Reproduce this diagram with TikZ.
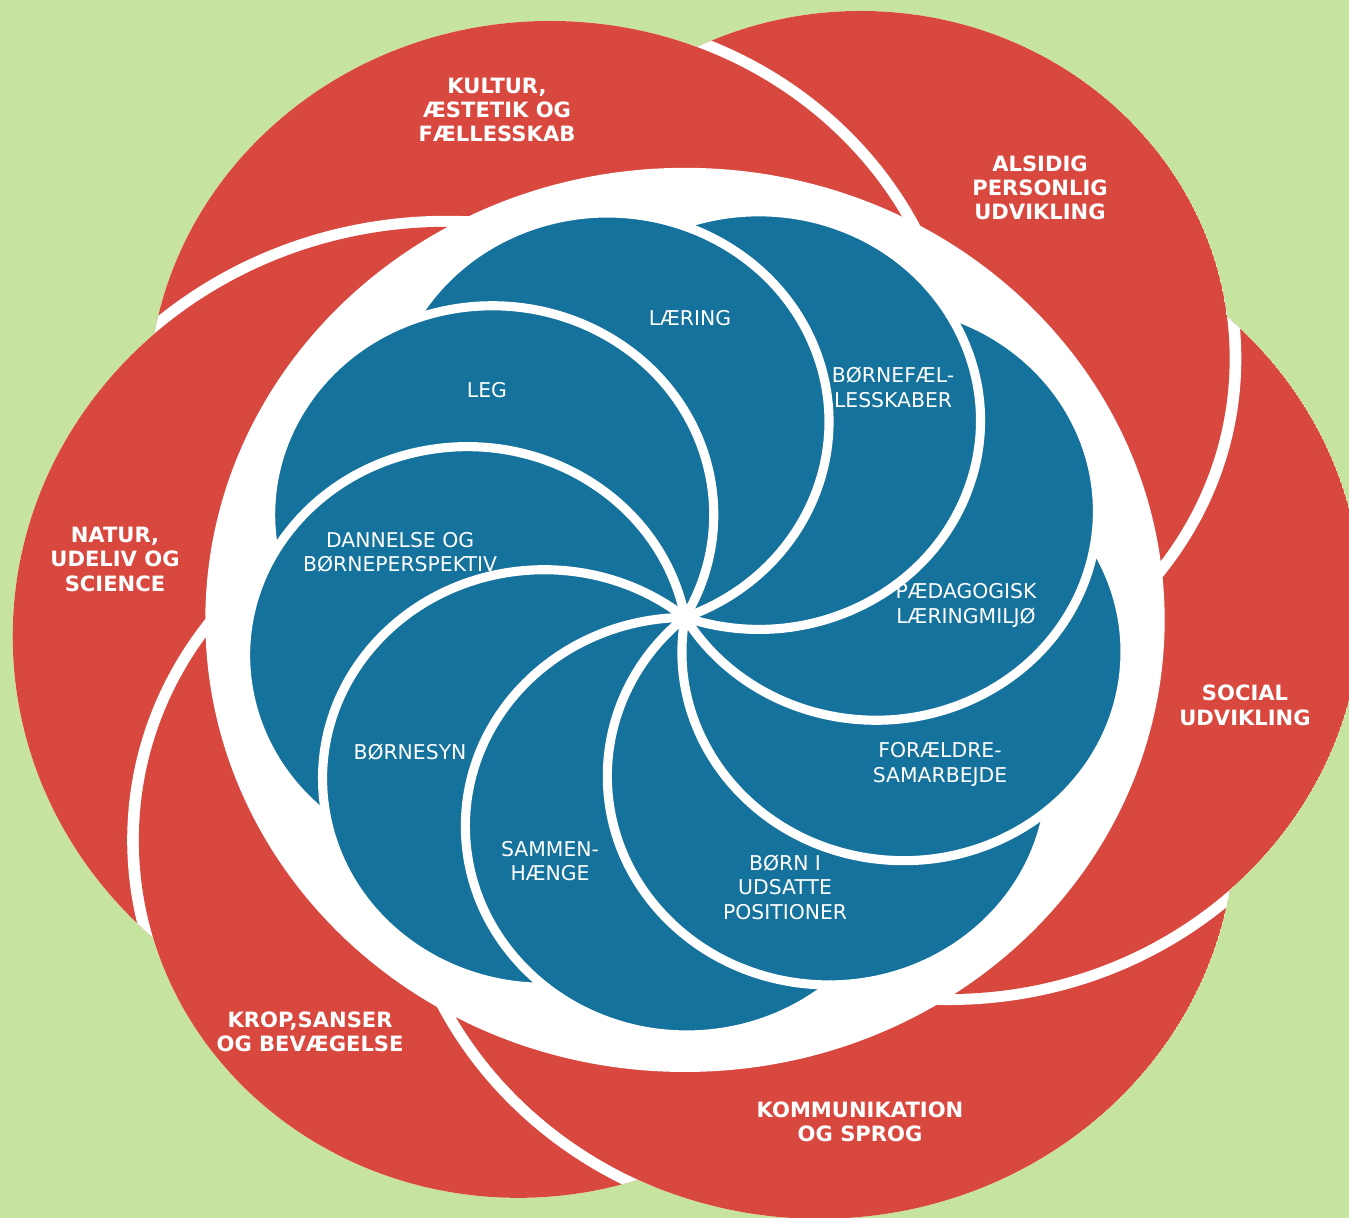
\documentclass[tikz,border=0pt]{standalone}
\usepackage{fontspec}
\setmainfont{DejaVu Sans}
\definecolor{meadow}{RGB}{198,228,158}
\definecolor{petalred}{RGB}{217,72,63}
\definecolor{swirlblue}{RGB}{20,114,156}

\begin{document}
\begin{tikzpicture}[x=0.0106cm, y=0.01cm,
                    area/.style={text=white, align=center,
                                 font=\fontsize{6}{6.9}\selectfont\bfseries},
                    swirl/.style={text=white, align=center,
                                  font=\fontsize{5.8}{7}\selectfont},
                    vane/.style={draw=white, line width=2.6pt, line cap=round}]
	\fill[meadow] (-646.2,-601) rectangle (626.4,618);
	\useasboundingbox (-646.2,-601) rectangle (626.4,618);

	% centres of the six outer areas
	\coordinate (kultur) at (-127.2, 218);
	\coordinate (alsidig) at (165.8, 259);
	\coordinate (social) at (248.3, 13);
	\coordinate (kommunikation) at (126.8, -210);
	\coordinate (krop) at (-157.2, -223);
	\coordinate (natur) at (-224.2, -19);

	\begin{scope}
		\clip (kultur) circle[radius=379] (alsidig) circle[radius=348]
		      (social) circle[radius=390] (kommunikation) circle[radius=392]
		      (krop) circle[radius=358] (natur) circle[radius=410];
		\foreach \c/\r in {kommunikation/392, social/390, alsidig/348,
		                   kultur/379, natur/410, krop/358} {
			\fill[white] (\c) circle[radius=\r+11];
			\fill[petalred] (\c) circle[radius=\r];
		}
		% kommunikation lies over krop
		\begin{scope}
			\clip (krop) circle[radius=378];
			\foreach \c/\r in {kommunikation/392, social/390} {
				\fill[white, even odd rule] (\c) circle[radius=\r+11] circle[radius=\r];
				\fill[petalred] (\c) circle[radius=\r];
			}
		\end{scope}
	\end{scope}

	\fill[white] (0,-2.5) circle[radius=452.5];

	% nine blades round the centre
	\foreach \k in {0,...,8}
		\fill[swirlblue] (110.5+40*\k:209) circle[radius=209];
	\foreach \k in {0,...,8}
		\path[vane] (0,0) arc[start angle=40*\k-69.5, end angle=40*\k+150.5, radius=209];

	\node[area] (kulturtxt) at (-177.3, 508) {KULTUR,\\ÆSTETIK OG\\FÆLLESSKAB};
	\node[area] (alsidigtxt) at (334.9, 430) {ALSIDIG\\PERSONLIG\\UDVIKLING};
	\node[area] (naturtxt) at (-537.7, 58) {NATUR,\\UDELIV OG\\SCIENCE};
	\node[area] (socialtxt) at (528.3, -88) {SOCIAL\\UDVIKLING};
	\node[area] (kroptxt) at (-353.7, -415) {KROP,SANSER\\OG BEVÆGELSE};
	\node[area] (kommtxt) at (165.1, -505) {KOMMUNIKATION\\OG SPROG};

	\node[swirl] (laering) at (4.7, 300) {LÆRING};
	\node[swirl] (leg) at (-186.8, 228) {LEG};
	\node[swirl] (faelles) at (196.3, 230) {BØRNEFÆL-\\LESSKABER};
	\node[swirl] (dannelse) at (-268.8, 65) {DANNELSE OG\\BØRNEPERSPEKTIV};
	\node[swirl] (miljo) at (265.1, 12) {PÆDAGOGISK\\LÆRINGMILJØ};
	\node[swirl] (boernesyn) at (-259.4, -135) {BØRNESYN};
	\node[swirl] (foraeldre) at (240.6, -147) {FORÆLDRE-\\SAMARBEJDE};
	\node[swirl] (sammen) at (-127.3, -244) {SAMMEN-\\HÆNGE};
	\node[swirl] (udsatte) at (94.4, -270) {BØRN I\\UDSATTE\\POSITIONER};
\end{tikzpicture}
\end{document}
